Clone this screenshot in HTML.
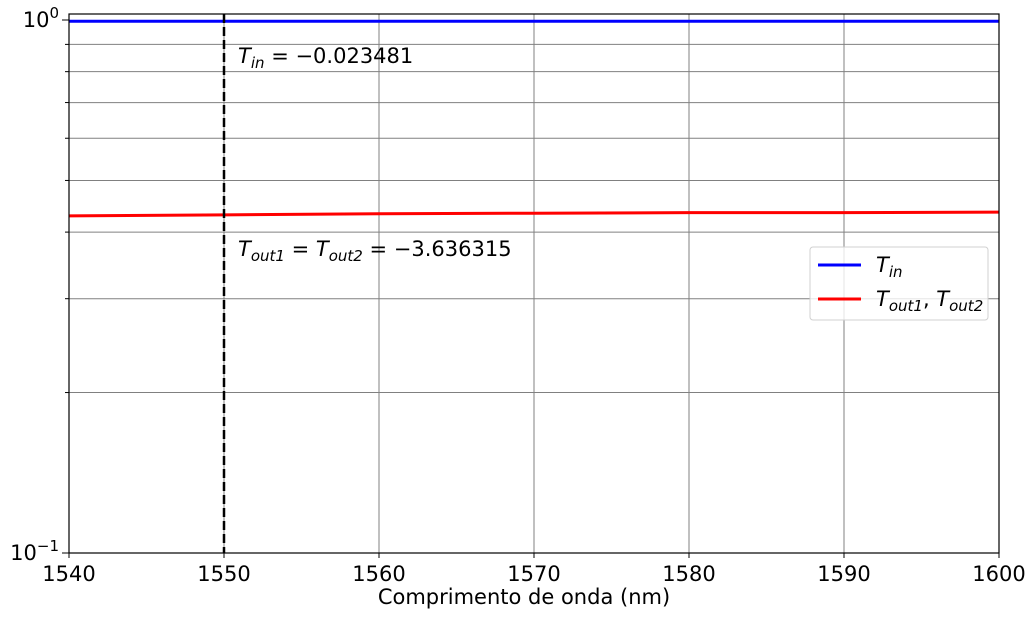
<!DOCTYPE html>
<html><head><meta charset="utf-8"><style>
body{margin:0;background:#fff;}
svg{display:block;font-family:"DejaVu Sans","Liberation Sans",sans-serif;}
</style></head><body>
<svg id="chart" width="1035" height="618"></svg>
<script>
const wavelengths=[1540,1550,1560,1570,1580,1590,1600];
const tinValues=[0.9946,0.9946,0.9947,0.9947,0.9947,0.9947,0.9947];
const toutValues=[0.429,0.431,0.433,0.434,0.435,0.435,0.436];
const xTicks=[1540,1550,1560,1570,1580,1590,1600];
const yMinor=[0.2,0.3,0.4,0.5,0.6,0.7,0.8,0.9];
const markerX=1550;
const NS="http://www.w3.org/2000/svg";
const svg=document.getElementById('chart');
const L=69,R=999,T=14,B=553;
const xs=v=>L+(v-1540)/60*(R-L);
const ys=v=>B-533*(Math.log10(v)+1);
function mk(tag,attrs,parent){const e=document.createElementNS(NS,tag);for(const k in attrs)e.setAttribute(k,attrs[k]);(parent||svg).appendChild(e);return e;}
const grid=mk('g',{});


xTicks.forEach(t=>{const l=mk('line',{x1:xs(t),x2:xs(t),y1:T,y2:B,stroke:'#808080','stroke-width':1},grid);


const tk=mk('line',{x1:xs(t),x2:xs(t),y1:B,y2:B+5,stroke:'#000'});


const tx=mk('text',{x:xs(t),y:B+28,'text-anchor':'middle','font-size':21});tx.textContent=t;

});
yMinor.forEach(v=>{const l=mk('line',{x1:L,x2:R,y1:ys(v),y2:ys(v),stroke:'#808080','stroke-width':1},grid);


const tk=mk('line',{x1:L-4,x2:L,y1:ys(v),y2:ys(v),stroke:'#000'});

});
[[1,'0'],[0.1,'−1']].forEach(([v,e])=>{const y=ys(v);
const tk=mk('line',{x1:L-7,x2:L,y1:y,y2:y,stroke:'#000'});


const t=mk('text',{x:L-10,y:y+7,'text-anchor':'end','font-size':21});


t.innerHTML='10<tspan dy="-9" font-size="15">'+e+'</tspan>';});
function series(vals,color,name){const p=vals.map((v,i)=>(i?'L':'M')+xs(wavelengths[i])+','+ys(v)).join('');
const e=mk('path',{d:p,fill:'none',stroke:color,'stroke-width':3});

}
series(tinValues,'#0000ff','tin-line');
series(toutValues,'#ff0000','tout-line');
const vl=mk('line',{x1:xs(markerX),x2:xs(markerX),y1:T,y2:B,stroke:'#000','stroke-width':2.5,'stroke-dasharray':'9,4'});


const fr=mk('rect',{x:L,y:T,width:R-L,height:B-T,fill:'none',stroke:'#000','stroke-width':1.2});


const a1=mk('text',{x:238,y:63,'font-size':21});


a1.innerHTML='<tspan font-style="italic">T</tspan><tspan font-style="italic" font-size="15" dy="5">in</tspan><tspan dy="-5"> = −0.023481</tspan>';
const a2=mk('text',{x:238,y:256,'font-size':21});


a2.innerHTML='<tspan font-style="italic">T</tspan><tspan font-style="italic" font-size="15" dy="5">out1</tspan><tspan dy="-5"> = </tspan><tspan font-style="italic">T</tspan><tspan font-style="italic" font-size="15" dy="5">out2</tspan><tspan dy="-5"> = −3.636315</tspan>';
const xl=mk('text',{x:(L+R)/2-10,y:604,'text-anchor':'middle','font-size':21});xl.textContent='Comprimento de onda (nm)';


const lg=mk('g',{});


mk('rect',{x:810,y:247,width:178,height:73,rx:3,fill:'rgba(255,255,255,0.8)',stroke:'#d0d0d0'},lg);
const e1=mk('line',{x1:818,x2:861,y1:265,y2:265,stroke:'#0000ff','stroke-width':3},lg);


const t1=mk('text',{x:876,y:272,'font-size':21},lg);
t1.innerHTML='<tspan font-style="italic">T</tspan><tspan font-style="italic" font-size="15" dy="5">in</tspan>';
const e2=mk('line',{x1:818,x2:861,y1:299,y2:299,stroke:'#ff0000','stroke-width':3},lg);


const t2=mk('text',{x:876,y:306,'font-size':21},lg);
t2.innerHTML='<tspan font-style="italic">T</tspan><tspan font-style="italic" font-size="15" dy="5">out1</tspan><tspan dy="-5">, </tspan><tspan font-style="italic">T</tspan><tspan font-style="italic" font-size="15" dy="5">out2</tspan>';
</script>
</body></html>
